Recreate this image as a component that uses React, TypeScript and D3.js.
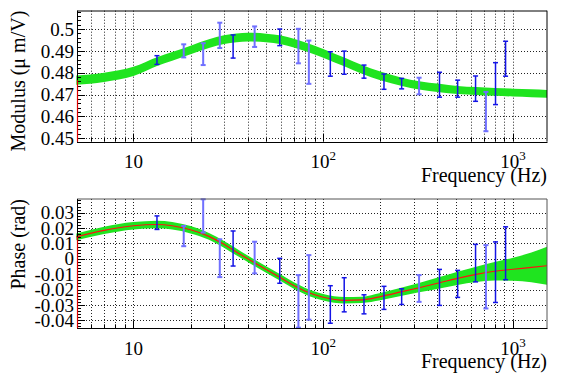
import React, { Component } from "react";
import * as d3 from "d3";

// Frequencies of the measured points (Hz)
const pointFreq = [13.3, 18.4, 23.3, 28.5, 33.5, 43.5, 59, 74, 84, 109, 129, 164, 209, 259, 320, 410, 511, 635, 720, 809, 914];
// Points drawn with the faint blue
const pointFaint = [false, true, true, true, false, true, false, true, true, false, false, false, false, false, true, false, false, false, true, false, false];

// Modulus of the measured points and their errors (µ m/V)
const modValue = [0.4858, 0.49, 0.4885, 0.4971, 0.492, 0.4965, 0.4962, 0.4922, 0.4848, 0.484, 0.4846, 0.4805, 0.4759, 0.475, 0.4739, 0.4745, 0.4727, 0.4727, 0.4622, 0.475, 0.4864];
const modError = [0.002, 0.003, 0.005, 0.0058, 0.0053, 0.0047, 0.0038, 0.0079, 0.0099, 0.0056, 0.0053, 0.003, 0.0035, 0.0024, 0.0038, 0.0057, 0.0039, 0.0058, 0.009, 0.0096, 0.008];

// Phase of the measured points and their errors (rad)
const phaseValue = [0.0235, 0.0148, 0.0279, 0.0004, 0.0067, 0.0008, -0.0078, -0.0277, -0.0186, -0.0297, -0.0234, -0.0296, -0.0254, -0.0246, -0.0193, -0.0186, -0.0163, -0.0028, -0.0117, -0.0087, 0.0036];
const phaseError = [0.0044, 0.0066, 0.0108, 0.0123, 0.0114, 0.0103, 0.0081, 0.0171, 0.021, 0.0122, 0.0111, 0.0062, 0.0075, 0.0051, 0.0087, 0.0117, 0.0088, 0.0122, 0.0206, 0.0197, 0.0172];

// Fitted curves and their bands, sampled along frequency
const fitFreq = [5, 7, 10, 13.3, 16, 20, 25, 30, 35, 40, 50, 60, 70, 80, 100, 130, 160, 200, 260, 320, 410, 510, 640, 800, 1000, 1250, 1511];
const modFit = [0.4766, 0.4779, 0.4806, 0.4851, 0.4875, 0.4904, 0.4933, 0.4952, 0.496, 0.4963, 0.4959, 0.495, 0.4935, 0.4919, 0.4889, 0.4848, 0.4815, 0.4785, 0.4758, 0.4742, 0.473, 0.4721, 0.4716, 0.4712, 0.4709, 0.4706, 0.4703];
const modFitErr = [0.0021, 0.0021, 0.0021, 0.002, 0.002, 0.002, 0.002, 0.002, 0.002, 0.002, 0.002, 0.002, 0.002, 0.002, 0.002, 0.002, 0.002, 0.002, 0.0019, 0.0019, 0.0019, 0.0018, 0.0018, 0.0018, 0.0018, 0.0018, 0.0018];
const phaseFit = [0.0143, 0.0185, 0.0215, 0.0223, 0.0215, 0.0189, 0.0146, 0.0094, 0.0043, 0.0, -0.0069, -0.0125, -0.0174, -0.0209, -0.025, -0.027, -0.0267, -0.0246, -0.0214, -0.0188, -0.0156, -0.0127, -0.0101, -0.0081, -0.0068, -0.0056, -0.0045];
const phaseFitErr = [0.0022, 0.0024, 0.0024, 0.0025, 0.0025, 0.0024, 0.0022, 0.0022, 0.0022, 0.0021, 0.0021, 0.0021, 0.0021, 0.0021, 0.0021, 0.0021, 0.0021, 0.0024, 0.0027, 0.003, 0.0037, 0.0043, 0.005, 0.006, 0.0075, 0.0097, 0.0124];

// Decade labels on the frequency axis
const decadeValues = [10, 100, 1000];
const decadeExponents = ["", "2", "3"];

class FrequencyResponse extends Component {
  svgRef = React.createRef<SVGSVGElement>();

  componentDidMount() {
    this.drawChart();
  }

  /** Style variables. */
  font = "'Liberation Serif', Tinos, 'Nimbus Roman', 'DejaVu Serif', serif";
  bandColor = "#1fe41f";
  darkBlue = "#1414e6";
  faintBlue = "#7070ff";

  drawChart() {
    var svg = d3.select(this.svgRef.current);
    svg.selectAll("*").remove();

    this.drawPanel(svg, {
      top: 10.7,
      bottom: 141.7,
      yDomain: [0.4484, 0.5084],
      minorCount: 30,
      value: modValue,
      error: modError,
      fit: modFit,
      fitErr: modFitErr,
      title: "Modulus (\u03bc m/V)",
      showFit: false,
      edgeColor: "#000",
    });

    this.drawPanel(svg, {
      top: 199,
      bottom: 328.3,
      yDomain: [-0.0452, 0.0389],
      minorCount: 40,
      value: phaseValue,
      error: phaseError,
      fit: phaseFit,
      fitErr: phaseFitErr,
      title: "Phase (rad)",
      showFit: true,
      edgeColor: "#555",
    });
  }

  drawPanel(svg, p) {
    var left = 77,
      right = 547;

    var x = d3.scaleLog().domain([5.04, 1511]).range([left, right]);
    var y = d3.scaleLinear().domain(p.yDomain).range([p.bottom, p.top]);

    var g = svg.append("g");
    var crisp = (v) => Math.round(v) + 0.5;

    // Dotted grid, vertical at every log tick, horizontal at major ticks
    g.selectAll(".vgrid")
      .data(x.ticks())
      .enter()
      .append("line")
      .attr("x1", (d) => crisp(x(d)))
      .attr("x2", (d) => crisp(x(d)))
      .attr("y1", p.top)
      .attr("y2", p.bottom)
      .attr("stroke", "#222")
      .attr("stroke-dasharray", "1,2");

    g.selectAll(".hgrid")
      .data(y.ticks(8))
      .enter()
      .append("line")
      .attr("x1", left)
      .attr("x2", right)
      .attr("y1", (d) => crisp(y(d)))
      .attr("y2", (d) => crisp(y(d)))
      .attr("stroke", "#222")
      .attr("stroke-dasharray", "1,2");

    // Fit band
    var idx = d3.range(fitFreq.length);
    var band = d3
      .area()
      .x((i) => x(fitFreq[i]))
      .y0((i) => y(p.fit[i] - p.fitErr[i]))
      .y1((i) => y(p.fit[i] + p.fitErr[i]))
      .curve(d3.curveMonotoneX);
    g.append("path").attr("d", band(idx)).attr("fill", this.bandColor);

    // Fit line
    if (p.showFit) {
      var line = d3
        .line()
        .x((i) => x(fitFreq[i]))
        .y((i) => y(p.fit[i]))
        .curve(d3.curveMonotoneX);
      g.append("path")
        .attr("d", line(idx))
        .attr("fill", "none")
        .attr("stroke", "#ff1010")
        .attr("stroke-width", 1.2);
    }

    // Error bars of the measured points
    var bars = g
      .selectAll(".bar")
      .data(d3.range(pointFreq.length))
      .enter()
      .append("g")
      .attr("stroke", (i) => (pointFaint[i] ? this.faintBlue : this.darkBlue))
      .attr("stroke-width", (i) => (pointFaint[i] ? 2 : 1.5));

    bars
      .append("line")
      .attr("x1", (i) => x(pointFreq[i]))
      .attr("x2", (i) => x(pointFreq[i]))
      .attr("y1", (i) => y(p.value[i] - p.error[i]))
      .attr("y2", (i) => y(p.value[i] + p.error[i]));

    [-1, 1].forEach((s) => {
      bars
        .append("line")
        .attr("x1", (i) => x(pointFreq[i]) - 2.5)
        .attr("x2", (i) => x(pointFreq[i]) + 2.5)
        .attr("y1", (i) => y(p.value[i] + s * p.error[i]))
        .attr("y2", (i) => y(p.value[i] + s * p.error[i]));
    });

    // Frame
    g.append("line").attr("x1", left).attr("x2", right).attr("y1", crisp(p.top) - 0.5).attr("y2", crisp(p.top) - 0.5).attr("stroke", p.edgeColor);
    g.append("line").attr("x1", right).attr("x2", right).attr("y1", p.top).attr("y2", p.bottom).attr("stroke", p.edgeColor);
    g.append("line").attr("x1", left).attr("x2", right + 0.5).attr("y1", crisp(p.bottom)).attr("y2", crisp(p.bottom)).attr("stroke", "#000");
    g.append("line").attr("x1", left + 0.5).attr("x2", left + 0.5).attr("y1", p.top).attr("y2", p.bottom).attr("stroke", "#000");

    // Y ticks, minor and major
    var majorY = y.ticks(8);
    g.selectAll(".yminor")
      .data(y.ticks(p.minorCount))
      .enter()
      .append("line")
      .attr("x1", left)
      .attr("x2", left + 4)
      .attr("y1", (d) => crisp(y(d)))
      .attr("y2", (d) => crisp(y(d)))
      .attr("stroke", "#000");
    g.selectAll(".ymajor")
      .data(majorY)
      .enter()
      .append("line")
      .attr("x1", left)
      .attr("x2", left + 8)
      .attr("y1", (d) => crisp(y(d)))
      .attr("y2", (d) => crisp(y(d)))
      .attr("stroke", "#000");

    // X ticks, decades longer
    g.selectAll(".xtick")
      .data(x.ticks())
      .enter()
      .append("line")
      .attr("x1", (d) => crisp(x(d)))
      .attr("x2", (d) => crisp(x(d)))
      .attr("y1", p.bottom)
      .attr("y2", (d) => p.bottom - (decadeValues.includes(d) ? 8 : 4))
      .attr("stroke", "#000");

    // Red edge where the fit leaves the frame
    g.append("line")
      .attr("x1", left + 0.5)
      .attr("x2", left + 0.5)
      .attr("y1", y(p.fit[0]))
      .attr("y2", p.bottom)
      .attr("stroke", "#e00000")
      .attr("stroke-width", 1.2);

    // Y tick labels
    g.selectAll(".ylabel")
      .data(majorY)
      .enter()
      .append("text")
      .attr("x", left - 3)
      .attr("y", (d) => y(d))
      .attr("dy", "0.35em")
      .attr("text-anchor", "end")
      .style("font-family", this.font)
      .style("font-size", "19px")
      .text((d) => String(+d.toFixed(3)));

    // X tick labels (10, 10^2, 10^3)
    var xl = g
      .selectAll(".xlabel")
      .data(d3.range(decadeValues.length))
      .enter()
      .append("text")
      .attr("x", (i) => x(decadeValues[i]))
      .attr("y", p.bottom + 26.5)
      .attr("text-anchor", "middle")
      .style("font-family", this.font)
      .style("font-size", "19px");
    xl.append("tspan").text("10");
    xl.append("tspan")
      .attr("dy", -8)
      .style("font-size", "13px")
      .text((i) => decadeExponents[i]);

    // Axis titles
    g.append("text")
      .attr("x", right)
      .attr("y", p.bottom + 40)
      .attr("text-anchor", "end")
      .style("font-family", this.font)
      .style("font-size", "20px")
      .text("Frequency (Hz)");

    g.append("text")
      .attr("transform", `translate(25, ${p.top}) rotate(-90)`)
      .attr("text-anchor", "end")
      .style("font-family", this.font)
      .style("font-size", "20px")
      .text(p.title);
  }

  render() {
    return (
      <svg
        ref={this.svgRef}
        width={581}
        height={378}
        style={{ position: "absolute", left: 0, top: 0, background: "#fff" }}
      ></svg>
    );
  }
}

export default function App() {
  return <FrequencyResponse />;
}
